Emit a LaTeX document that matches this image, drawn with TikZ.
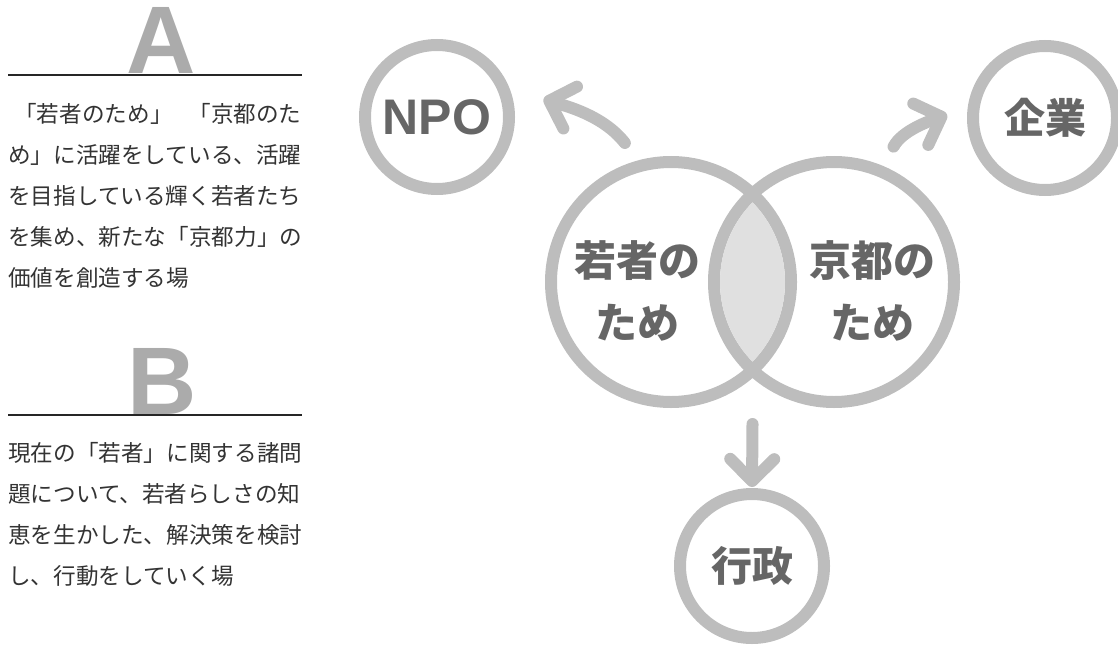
\documentclass[tikz,border=0pt]{standalone}
\usepackage{fontspec}
\usetikzlibrary{arrows.meta,calc}
\newfontfamily\jpfont{Noto Sans CJK JP}
\newfontfamily\headfont{Liberation Sans}
\definecolor{ringgray}{HTML}{BDBDBD}
\definecolor{lensgray}{HTML}{E0E0E0}
\definecolor{labelgray}{HTML}{666666}
\definecolor{lettergray}{HTML}{ABABAB}
\definecolor{bodygray}{HTML}{333333}

\begin{document}
\begin{tikzpicture}[x=0.5pt, y=-0.5pt,
    ring/.style={circle, draw=ringgray, line width=6pt, inner sep=0pt},
    bigring/.style={ring, minimum size=120pt},
    smallring/.style={ring, minimum size=72pt, text=labelgray, font=\jpfont\bfseries\fontsize{20.5}{24}\selectfont},
    flow/.style={draw=ringgray, line width=6pt, line cap=round, -{Straight Barb[length=11pt, width=22pt, round]}},
    ringlabel/.style={text=labelgray, align=center, font=\jpfont\bfseries\fontsize{21}{31}\selectfont},
    bigletter/.style={anchor=base, inner sep=0pt, text=lettergray, font=\headfont\bfseries\fontsize{48}{48}\selectfont},
    para/.style={anchor=base west, inner sep=0pt, text=bodygray, font=\jpfont\fontsize{11.3}{14}\selectfont},
    headrule/.style={draw=black!85, line width=0.7pt}]
  \useasboundingbox (0,0) rectangle (1118,647);

  % left column
  \node[bigletter] (letA) at (161,74) {A};
  \draw[headrule] (8,75) -- (302,75);
  \foreach \t [count=\i] in {{\hspace{3pt}「若者のため」\hspace{8pt}「京都のた},
      め」に活躍をしている、活躍, を目指している輝く若者たち,
      を集め、新たな「京都力」の, 価値を創造する場}
    \node[para] (a\i) at (8, {122+41*(\i-1)}) {\t};

  \node[bigletter] (letB) at (162,414) {B};
  \draw[headrule] (8,415) -- (302,415);
  \foreach \t [count=\i] in {現在の「若者」に関する諸問,
      題について、若者らしさの知, 恵を生かした、解決策を検討,
      し、行動をしていく場}
    \node[para] (b\i) at (8, {461+41*(\i-1)}) {\t};

  % two big rings and their overlap
  \node[bigring] (wakamono) at (671,282) {};
  \node[bigring] (kyoto) at (834,282) {};
  \begin{scope}
    \clip (wakamono.center) circle[radius=57pt];
    \fill[lensgray] (kyoto.center) circle[radius=57pt];
  \end{scope}
  \node[ringlabel] (wakamonotext) at ($(wakamono)+(-34,9)$) {若者の\\ため};
  \node[ringlabel] (kyototext) at ($(kyoto)+(38,9)$) {京都の\\ため};

  % small rings
  \node[smallring] (npo) at (437,117) {\headfont\bfseries\fontsize{25}{28}\selectfont NPO};
  \node[smallring] (kigyo) at (1045,118) {企業};
  \node[smallring] (gyosei) at (752,566) {行政};

  % arrows
  \coordinate (lensfoot) at ($(wakamono)!0.5!(kyoto)+(0,142)$);
  \draw[flow, shorten <=11pt, shorten >=18pt] (wakamono.105) to[out=128, in=-18] (npo.22);
  \draw[flow, shorten <=11pt, shorten >=11pt] (kyoto.67) to[out=62, in=200] (kigyo.172);
  \draw[flow, shorten >=0.5pt] (lensfoot) -- (gyosei.north);
\end{tikzpicture}
\end{document}
